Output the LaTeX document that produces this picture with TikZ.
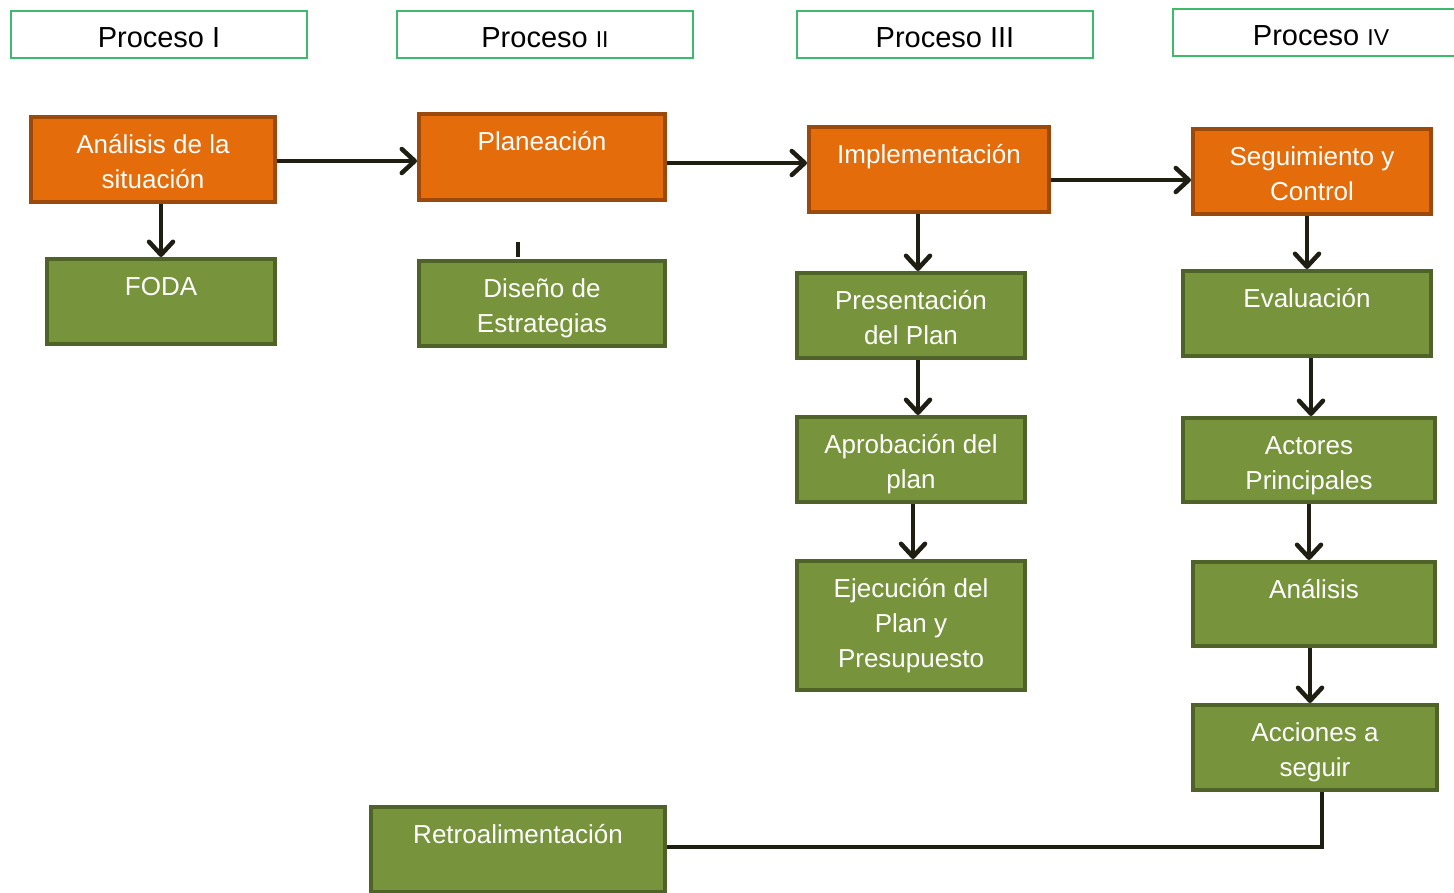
\documentclass[tikz,border=0pt]{standalone}
\usepackage{fontspec}
\setmainfont{Liberation Sans}
\usetikzlibrary{arrows.meta,calc}
\definecolor{orfill}{HTML}{E46C0A}
\definecolor{ordraw}{HTML}{9C4A0C}
\definecolor{grfill}{HTML}{77933C}
\definecolor{grdraw}{HTML}{4F6228}
\definecolor{hdraw}{HTML}{3DBB6C}
\definecolor{arrc}{HTML}{1E1E12}
\newcommand\bxt[3]{\parbox[c][#2pt][t]{#1pt}{\centering\fontsize{26}{35}\selectfont\vspace*{11.5pt}\strut#3}}
\newcommand\smallrn[1]{{\fontsize{23}{27}\selectfont #1}}
\tikzset{
  obox/.style={draw=ordraw, fill=orfill, line width=4pt, inner sep=0pt, text=white, anchor=north west},
  gbox/.style={draw=grdraw, fill=grfill, line width=4pt, inner sep=0pt, text=white, anchor=north west},
  hbox/.style={draw=hdraw, line width=1.5pt, minimum width=296pt, minimum height=47pt, inner sep=0pt,
    text height=25pt, text depth=0pt, font=\fontsize{29}{34}\selectfont},
  arr/.style={line width=4.5pt, draw=arrc, -{Straight Barb[length=13pt, width=24pt, round]}},
  conn/.style={line width=4.5pt, draw=arrc}
}
\begin{document}
\begin{tikzpicture}[x=1pt, y=-1pt]
\useasboundingbox (0,0) rectangle (1454,892);
\clip (0,0) rectangle (1454,892);
% headers
\node[hbox] (h1) at (159,34.5) {Proceso I};
\node[hbox] (h2) at (545,34.5) {Proceso \smallrn{II}};
\node[hbox] (h3) at (945,34.5) {Proceso III};
\node[hbox] (h4) at (1321,32.5) {Proceso \smallrn{IV}};
% orange boxes
\node[obox] (ana) at (29,115) {\bxt{244}{85}{Análisis de la\\situación}};
\node[obox] (pla) at (417,112) {\bxt{246}{86}{Planeación}};
\node[obox] (imp) at (807,125) {\bxt{240}{85}{Implementación}};
\node[obox] (seg) at (1191,127) {\bxt{238}{85}{Seguimiento y\\Control}};
% green boxes
\node[gbox] (foda) at (45,257) {\bxt{228}{85}{FODA}};
\node[gbox] (dis) at (417,259) {\bxt{246}{85}{Diseño de\\Estrategias}};
\node[gbox] (pre) at (795,271) {\bxt{228}{85}{Presentación\\del Plan}};
\node[gbox] (apr) at (795,415) {\bxt{228}{85}{Aprobación del\\plan}};
\node[gbox] (eje) at (795,559) {\bxt{228}{129}{Ejecución del\\Plan y\\Presupuesto}};
\node[gbox] (eva) at (1181,269) {\bxt{248}{85}{Evaluación}};
\node[gbox] (act) at (1181,416) {\bxt{252}{84}{Actores\\Principales}};
\node[gbox] (anl) at (1191,560) {\bxt{242}{84}{Análisis}};
\node[gbox] (acc) at (1191,703) {\bxt{244}{85}{Acciones a\\seguir}};
\node[gbox] (ret) at (369,805) {\bxt{294}{85}{Retroalimentación}};
% connectors
\draw[arr] ([yshift=-1.5pt]ana.east) -- ([yshift=-1.5pt]ana.east -| pla.west);
\draw[arr] ([yshift=-6pt]pla.east) -- ([yshift=-6pt]pla.east -| imp.west);
\draw[arr] ([yshift=-10.5pt]imp.east) -- ([yshift=-10.5pt]imp.east -| seg.west);
\draw[arr] (ana.south -| foda.north) -- (foda.north);
\draw[conn] (ret.north |- dis.north) ++(0,-2) -- ++(0,-15);
\draw[arr] ([xshift=7pt]pre.north |- imp.south) -- ([xshift=7pt]pre.north);
\draw[arr] ([xshift=7pt]pre.south) -- ([xshift=7pt]apr.north);
\draw[arr] ([xshift=2pt]apr.south) -- ([xshift=2pt]eje.north);
\draw[arr] (eva.north |- seg.south) -- (eva.north);
\draw[arr] ([xshift=4pt]eva.south) -- ([xshift=4pt]eva.south |- act.north);
\draw[arr] (act.south) -- (act.south |- anl.north);
\draw[arr] ([xshift=-4pt]anl.south) -- ([xshift=-4pt]anl.south |- acc.north);
\draw[conn] ([xshift=7pt]acc.south) |- ([yshift=2.5pt]ret.east);
\end{tikzpicture}
\end{document}
